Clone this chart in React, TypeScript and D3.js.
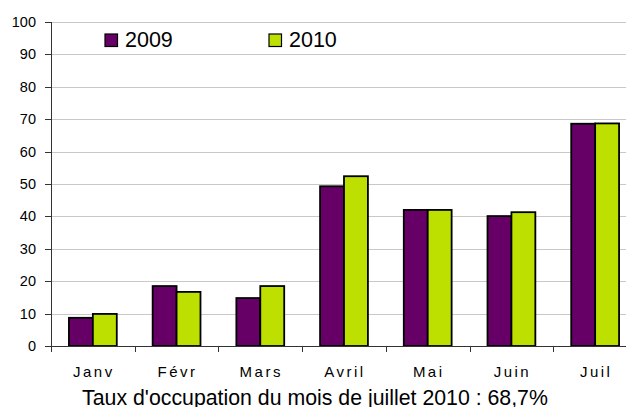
import React from "react";
import * as d3 from "d3";

const months = ["Janv", "Févr", "Mars", "Avril", "Mai", "Juin", "Juil"];
const series = ["2009", "2010"];
const values2009 = [8.7, 18.5, 14.8, 49.3, 42.0, 40.1, 68.6];
const values2010 = [9.9, 16.7, 18.5, 52.4, 42.0, 41.3, 68.7];
const yTicks = [0, 10, 20, 30, 40, 50, 60, 70, 80, 90, 100];
const colors = ["#660066", "#bde000"];
const title = "Taux d'occupation du mois de juillet 2010 : 68,7%";

export default function App() {
  const W = 626, H = 407;
  const left = 51, right = 637, top = 22, bottom = 346;
  const x = d3.scaleBand<string>().domain(months).range([left, right]).paddingInner(0).paddingOuter(0);
  const bw = x.bandwidth();
  const groupW = bw * (48 / 84);
  const xs = d3.scaleBand<string>().domain(series).range([0, groupW]);
  const y = d3.scaleLinear().domain([0, 100]).range([bottom, top]);
  const data = [values2009, values2010];
  const font = "'Liberation Sans', Arial, sans-serif";
  const ticksX = months.map((m) => x(m)!).concat([right]);

  return (
    <svg width={W} height={H} style={{ position: "absolute", left: 0, top: 0, background: "#fff" }} fontFamily={font}>
      <rect x={0} y={0} width={W} height={H} fill="#fff" />
      {yTicks.filter((t) => t > 0).map((t) => (
        <line key={t} x1={left} x2={W} y1={Math.round(y(t)) + 0.5} y2={Math.round(y(t)) + 0.5} stroke="#c8c8c8" strokeWidth={1} />
      ))}
      {data.map((vals, si) =>
        months.map((m, i) => {
          const bx = x(m)! + (bw - groupW) / 2 + xs(series[si])!;
          return (
            <rect key={`${si}-${m}`} x={bx} y={y(vals[i])} width={xs.bandwidth()} height={bottom - y(vals[i])}
              fill={colors[si]} stroke="#000" strokeWidth={1.8} />
          );
        })
      )}
      <line x1={left + 0.5} x2={left + 0.5} y1={top} y2={bottom} stroke="#333" strokeWidth={1} />
      <line x1={left} x2={W} y1={bottom + 0.5} y2={bottom + 0.5} stroke="#333" strokeWidth={1} />
      {yTicks.map((t) => (
        <g key={t}>
          <line x1={45} x2={left} y1={Math.round(y(t)) + 0.5} y2={Math.round(y(t)) + 0.5} stroke="#333" />
          <text x={36} y={y(t) + 5} textAnchor="end" fontSize={14.5} fill="#000">{t}</text>
        </g>
      ))}
      {ticksX.map((tx, i) => (
        <line key={i} x1={Math.round(tx) + 0.5} x2={Math.round(tx) + 0.5} y1={bottom} y2={bottom + 6} stroke="#333" />
      ))}
      {months.map((m) => (
        <text key={m} x={x(m)! + bw / 2 + 1} y={377} textAnchor="middle" fontSize={15} letterSpacing={2.5} fill="#000">{m}</text>
      ))}
      {series.map((s, i) => {
        const lx = i === 0 ? 105 : 269;
        return (
          <g key={s}>
            <rect x={lx} y={34} width={12.5} height={12.5} fill={colors[i]} stroke="#000" strokeWidth={1.2} />
            <text x={lx + 20} y={46.5} fontSize={21.5} fill="#000">{s}</text>
          </g>
        );
      })}
      <text x={315} y={405.3} textAnchor="middle" fontSize={21.3} fill="#000">{title}</text>
    </svg>
  );
}
